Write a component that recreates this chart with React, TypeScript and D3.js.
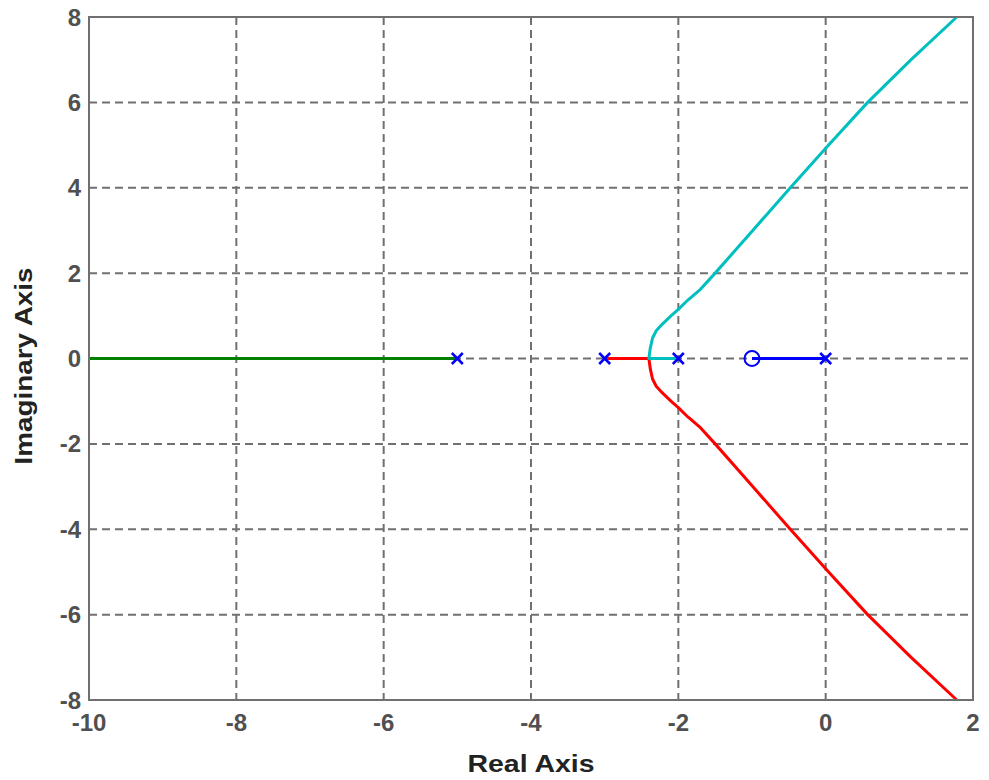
import React from "react";
import * as d3 from "d3";

const xTicks = [-10, -8, -6, -4, -2, 0, 2];
const yTicks = [-8, -6, -4, -2, 0, 2, 4, 6, 8];

const poles = [0, -2, -3, -5];
const zeros = [-1];

// branch: pole 0 -> zero -1
const blueBranch: [number, number][] = [[0, 0], [-1, 0]];
// branch: pole -5 -> -inf
const greenBranch: [number, number][] = [[-5, 0], [-10, 0]];
// branch: pole -2 -> breakaway -> upper
const cyanBranch: [number, number][] = [
  [-2, 0], [-2.4, 0], [-2.38, 0.25], [-2.35, 0.48], [-2.3, 0.65], [-2.22, 0.8],
  [-2.1, 1.0], [-2.0, 1.15], [-1.87, 1.37], [-1.7, 1.62], [-1.5, 2.0],
  [-0.99, 3.0], [-0.48, 4.0], [0.04, 5.0], [0.57, 6.0], [1.16, 7.0], [1.78, 8.0],
];
// branch: pole -3 -> breakaway -> lower
const redBranch: [number, number][] = [
  [-3, 0], [-2.4, 0], [-2.38, -0.25], [-2.35, -0.48], [-2.3, -0.65], [-2.22, -0.8],
  [-2.1, -1.0], [-2.0, -1.15], [-1.87, -1.37], [-1.7, -1.62], [-1.5, -2.0],
  [-0.99, -3.0], [-0.48, -4.0], [0.04, -5.0], [0.57, -6.0], [1.16, -7.0], [1.78, -8.0],
];

const W = 989, H = 780;
const left = 89, right = 973, top = 17, bottom = 700;

export default function App() {
  const x = d3.scaleLinear().domain([-10, 2]).range([left, right]);
  const y = d3.scaleLinear().domain([-8, 8]).range([bottom, top]);
  const line = d3.line<[number, number]>().x(d => x(d[0])).y(d => y(d[1])).curve(d3.curveLinear);
  const font = "'Liberation Sans', Arial, sans-serif";
  const tickColor = "#505050";
  const gridColor = "#707070";
  const mk = 5.5;
  return (
    <svg width={W} height={H} style={{ position: "absolute", left: 0, top: 0, background: "#fff" }}>
      <rect x={0} y={0} width={W} height={H} fill="#fff" />
      {/* grid */}
      {xTicks.slice(1, -1).map(t => (
        <line key={"gx" + t} x1={x(t)} x2={x(t)} y1={top} y2={bottom} stroke={gridColor} strokeWidth={2} strokeDasharray="8,5" />
      ))}
      {yTicks.slice(1, -1).map(t => (
        <line key={"gy" + t} x1={left} x2={right} y1={y(t)} y2={y(t)} stroke={gridColor} strokeWidth={2} strokeDasharray="8,5" />
      ))}
      {/* locus */}
      <path d={line(greenBranch) || ""} fill="none" stroke="#008000" strokeWidth={3} />
      <path d={line(blueBranch) || ""} fill="none" stroke="#0000ff" strokeWidth={3} />
      <path d={line(redBranch) || ""} fill="none" stroke="#ff0000" strokeWidth={3} strokeLinejoin="round" />
      <path d={line(cyanBranch) || ""} fill="none" stroke="#00bfbf" strokeWidth={3} strokeLinejoin="round" />
      {/* poles */}
      {poles.map(p => (
        <g key={"p" + p} stroke="#0000ff" strokeWidth={2.5}>
          <line x1={x(p) - mk} x2={x(p) + mk} y1={y(0) - mk} y2={y(0) + mk} />
          <line x1={x(p) - mk} x2={x(p) + mk} y1={y(0) + mk} y2={y(0) - mk} />
        </g>
      ))}
      {zeros.map(z => (
        <circle key={"z" + z} cx={x(z)} cy={y(0)} r={7.5} fill="none" stroke="#0000ff" strokeWidth={2} />
      ))}
      {/* frame */}
      <rect x={left} y={top} width={right - left} height={bottom - top} fill="none" stroke={gridColor} strokeWidth={2} />
      {/* tick labels */}
      {xTicks.map(t => (
        <text key={"tx" + t} x={x(t)} y={731} textAnchor="middle" fontFamily={font} fontWeight="bold" fontSize={24} fill={tickColor}>{t}</text>
      ))}
      {yTicks.map(t => (
        <text key={"ty" + t} x={81} y={y(t) + 8.5} textAnchor="end" fontFamily={font} fontWeight="bold" fontSize={24} fill={tickColor}>{t}</text>
      ))}
      <text x={531} y={772} textAnchor="middle" fontFamily={font} fontWeight="bold" fontSize={24} fill="#222" textLength={127} lengthAdjust="spacingAndGlyphs">Real Axis</text>
      <text transform={`translate(32,366) rotate(-90)`} textAnchor="middle" fontFamily={font} fontWeight="bold" fontSize={24} fill="#222" textLength={197} lengthAdjust="spacingAndGlyphs">Imaginary Axis</text>
    </svg>
  );
}
